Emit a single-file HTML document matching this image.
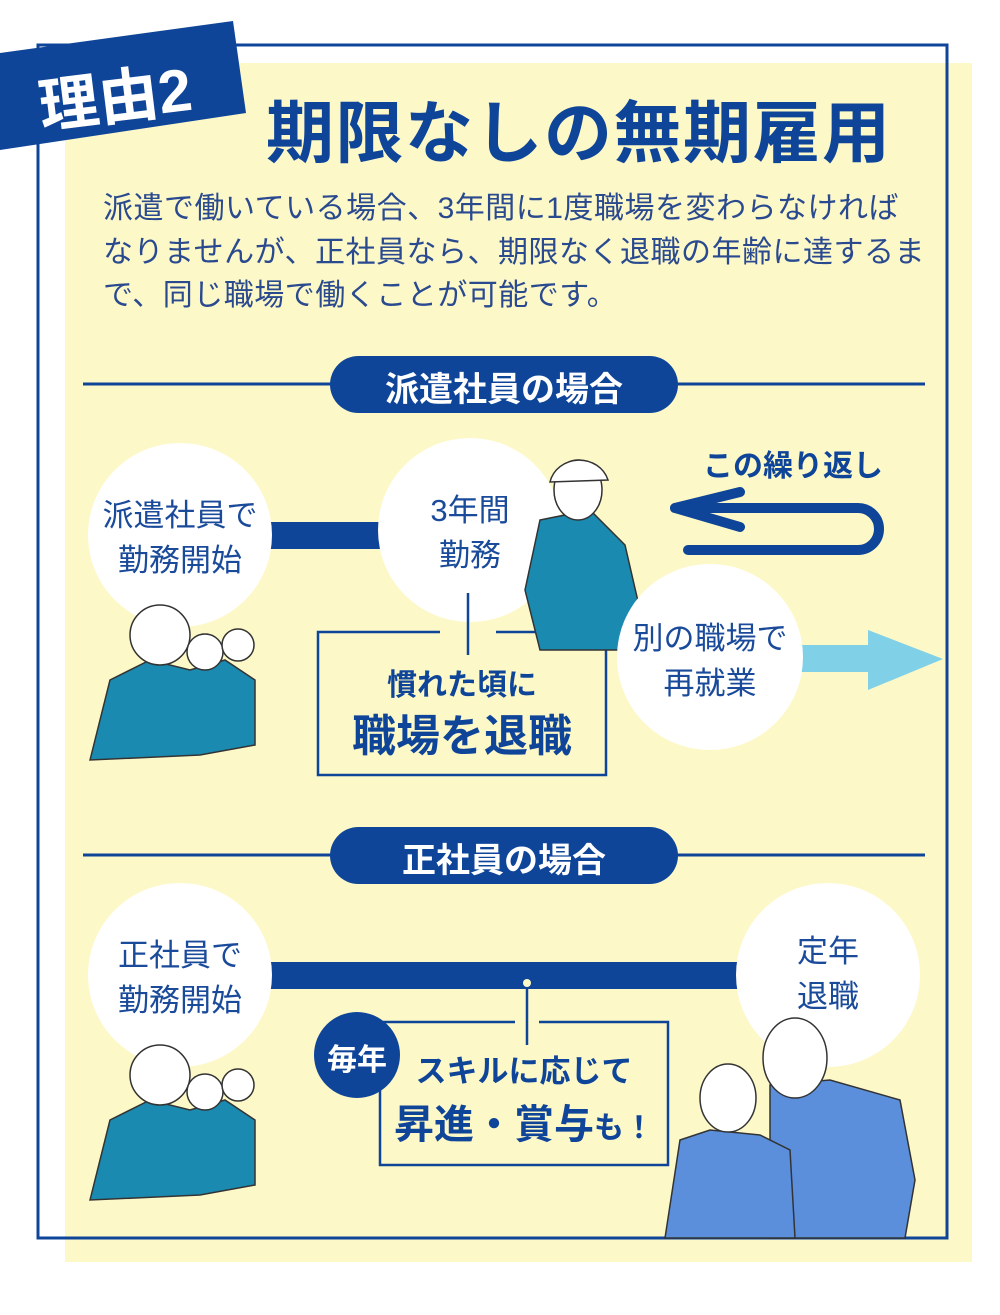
<!DOCTYPE html>
<html><head><meta charset="utf-8"><style>
*{margin:0;padding:0;box-sizing:border-box}
body{width:1000px;height:1315px;background:#fff;position:relative;overflow:hidden;font-family:"Liberation Sans","Noto Sans CJK JP",sans-serif;color:#1a4a9a}
.a{position:absolute;white-space:nowrap}
.c{text-align:center;line-height:1.45;color:#1a4a9a;font-size:31px}
</style></head><body>
<svg class="a" style="left:0;top:0" width="1000" height="1315">
<rect x="65" y="63" width="907" height="1199" fill="#fdf8c8"/>
<rect x="38" y="45" width="909" height="1193" fill="none" stroke="#0f4599" stroke-width="3"/>
<polygon points="0,53 233,21 246,113 0,150" fill="#0f4599"/>
<line x1="83" y1="384" x2="925" y2="384" stroke="#0f4599" stroke-width="3"/>
<rect x="330" y="356" width="348" height="57" rx="28.5" fill="#0f4599"/>
<line x1="83" y1="855" x2="925" y2="855" stroke="#0f4599" stroke-width="3"/>
<rect x="330" y="827" width="348" height="57" rx="28.5" fill="#0f4599"/>
<rect x="265" y="522" width="130" height="27" fill="#0f4599"/>
<rect x="318" y="632" width="288" height="143" fill="none" stroke="#0f4599" stroke-width="2.5"/>
<rect x="795" y="645" width="80" height="27" fill="#80d0e8"/>
<polygon points="868,630 943,659 868,690" fill="#80d0e8"/>
<path d="M675,508 H858 A21,21 0 0 1 858,550 H688" fill="none" stroke="#0f4599" stroke-width="10" stroke-linecap="round"/>
<path d="M740,492 L675,508 L740,527" fill="none" stroke="#0f4599" stroke-width="10" stroke-linecap="round" stroke-linejoin="round"/>
<circle cx="180" cy="535" r="92" fill="#fff"/>
<circle cx="470" cy="530" r="92" fill="#fff"/>
<rect x="440" y="630" width="56" height="5" fill="#fdf8c8"/>
<line x1="468" y1="593" x2="468" y2="655" stroke="#0f4599" stroke-width="2.5"/>
<path d="M540,520 L590,510 L625,545 L640,610 L620,650 L540,650 L525,590 Z" fill="#1a8ab0" stroke="#333" stroke-width="1.5"/>
<ellipse cx="578" cy="490" rx="24" ry="30" fill="#fff" stroke="#333" stroke-width="1.5"/>
<path d="M550,482 A30,28 0 0 1 608,480 Z" fill="#fff" stroke="#333" stroke-width="1.5"/>
<circle cx="710" cy="657" r="93" fill="#fff"/>
<path d="M90,760 L110,680 L150,660 L190,670 L225,660 L255,680 L255,745 L200,755 Z" fill="#1a8ab0" stroke="#333" stroke-width="1.5"/>
<circle cx="160" cy="635" r="30" fill="#fff" stroke="#333" stroke-width="1.5"/>
<circle cx="205" cy="652" r="18" fill="#fff" stroke="#333" stroke-width="1.5"/>
<circle cx="238" cy="645" r="16" fill="#fff" stroke="#333" stroke-width="1.5"/>
<rect x="265" y="962" width="475" height="27" fill="#0f4599"/>
<rect x="380" y="1022" width="288" height="143" fill="none" stroke="#0f4599" stroke-width="2.5"/>
<rect x="515" y="1018" width="24" height="8" fill="#fdf8c8"/>
<line x1="527" y1="983" x2="527" y2="1045" stroke="#0f4599" stroke-width="2.5"/>
<circle cx="527" cy="983" r="4" fill="#fdf8c8"/>
<circle cx="180" cy="975" r="92" fill="#fff"/>
<circle cx="828" cy="975" r="92" fill="#fff"/>
<circle cx="357" cy="1055" r="43" fill="#0f4599"/>
<path d="M90,1200 L110,1120 L150,1100 L190,1110 L225,1100 L255,1120 L255,1185 L200,1195 Z" fill="#1a8ab0" stroke="#333" stroke-width="1.5"/>
<circle cx="160" cy="1075" r="30" fill="#fff" stroke="#333" stroke-width="1.5"/>
<circle cx="205" cy="1092" r="18" fill="#fff" stroke="#333" stroke-width="1.5"/>
<circle cx="238" cy="1085" r="16" fill="#fff" stroke="#333" stroke-width="1.5"/>
<path d="M770,1085 L830,1080 L900,1100 L915,1180 L905,1238 L770,1238 Z" fill="#5b8fdc" stroke="#333" stroke-width="1.5"/>
<path d="M665,1238 L680,1140 L710,1130 L760,1135 L790,1150 L795,1238 Z" fill="#5b8fdc" stroke="#333" stroke-width="1.5"/>
<ellipse cx="795" cy="1058" rx="32" ry="40" fill="#fff" stroke="#333" stroke-width="1.5"/>
<ellipse cx="728" cy="1098" rx="28" ry="34" fill="#fff" stroke="#333" stroke-width="1.5"/>
</svg>
<div class="a" style="left:38px;top:50px;font-size:60px;font-weight:bold;color:#fff;transform:rotate(-7deg)">理由2</div>
<div class="a" style="left:266px;top:78px;font-size:68px;font-weight:bold;color:#0f4599;letter-spacing:1.5px">期限なしの無期雇用</div>
<div class="a" style="left:103px;top:187px;font-size:30px;line-height:43.5px;color:#2a4a90;letter-spacing:0.5px">派遣で働いている場合、3年間に1度職場を変わらなければ<br>なりませんが、正社員なら、期限なく退職の年齢に達するま<br>で、同じ職場で働くことが可能です。</div>
<div class="a" style="left:330px;top:362px;width:348px;text-align:center;font-size:34px;font-weight:bold;color:#fff">派遣社員の場合</div>
<div class="a" style="left:330px;top:833px;width:348px;text-align:center;font-size:34px;font-weight:bold;color:#fff">正社員の場合</div>
<div class="a c" style="left:88px;top:494px;width:184px">派遣社員で<br>勤務開始</div>
<div class="a c" style="left:378px;top:489px;width:184px">3年間<br>勤務</div>
<div class="a c" style="left:618px;top:617px;width:184px">別の職場で<br>再就業</div>
<div class="a" style="left:703px;top:441px;font-size:30px;font-weight:bold;color:#0f4599">この繰り返し</div>
<div class="a" style="left:318px;top:660px;width:288px;text-align:center;font-size:30px;font-weight:bold;color:#0f4599">慣れた頃に</div>
<div class="a" style="left:318px;top:700px;width:288px;text-align:center;font-size:44px;font-weight:bold;color:#0f4599">職場を退職</div>
<div class="a c" style="left:88px;top:934px;width:184px">正社員で<br>勤務開始</div>
<div class="a c" style="left:736px;top:930px;width:184px">定年<br>退職</div>
<div class="a" style="left:314px;top:1035px;width:86px;text-align:center;font-size:30px;font-weight:bold;color:#fff">毎年</div>
<div class="a" style="left:380px;top:1046px;width:288px;text-align:center;font-size:31px;font-weight:bold;color:#0f4599">スキルに応じて</div>
<div class="a" style="left:380px;top:1092px;width:288px;text-align:center;font-size:40px;font-weight:bold;color:#0f4599">昇進・賞与<span style="font-size:30px">も！</span></div>
</body></html>
